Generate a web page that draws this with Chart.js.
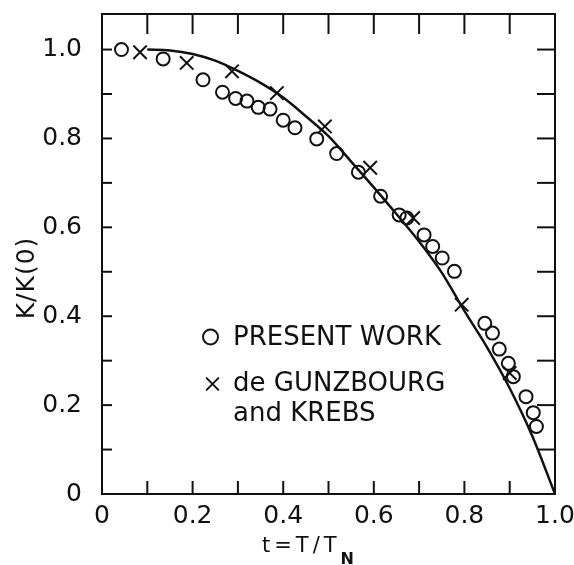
<!DOCTYPE html>
<html>
<head>
<meta charset="utf-8">
<script src="https://cdn.jsdelivr.net/npm/chart.js@4/dist/chart.umd.min.js"></script>
<style>
  html, body { margin: 0; padding: 0; background: #fff; }
  #wrap { width: 574px; height: 565px; }
</style>
</head>
<body>
<div id="wrap"><canvas id="c" width="574" height="565"></canvas></div>
<script>
// Reduced thermal conductivity K/K(0) versus reduced temperature t = T/T_N
const presentT = [0.043, 0.135, 0.223, 0.266, 0.295, 0.320, 0.345, 0.371, 0.400, 0.426, 0.474, 0.518,
                  0.566, 0.615, 0.656, 0.673, 0.711, 0.730, 0.751, 0.778,
                  0.845, 0.862, 0.877, 0.897, 0.908, 0.936, 0.952, 0.959];
const presentK = [1.000, 0.979, 0.932, 0.904, 0.890, 0.884, 0.870, 0.866, 0.841, 0.824, 0.799, 0.766,
                  0.724, 0.670, 0.628, 0.621, 0.583, 0.557, 0.531, 0.501,
                  0.384, 0.362, 0.326, 0.294, 0.264, 0.219, 0.183, 0.152];

const gunzT = [0.084, 0.187, 0.287, 0.386, 0.492, 0.592, 0.687, 0.794, 0.900];
const gunzK = [0.994, 0.970, 0.951, 0.902, 0.827, 0.734, 0.621, 0.426, 0.272];

// Theoretical curve
const curveT = [0.10, 0.15, 0.20, 0.25, 0.30, 0.35, 0.40, 0.45, 0.50, 0.55, 0.60, 0.65,
                0.70, 0.75, 0.80, 0.85, 0.90, 0.95, 1.00];
const curveK = [1.000, 0.998, 0.990, 0.975, 0.952, 0.925, 0.892, 0.850, 0.805, 0.748, 0.690, 0.630,
                0.568, 0.498, 0.412, 0.330, 0.238, 0.130, 0.000];

const xTickValues = [0, 0.2, 0.4, 0.6, 0.8, 1.0];
const yTickValues = [0, 0.2, 0.4, 0.6, 0.8, 1.0];
const xMinorTicks = [0.1, 0.2, 0.3, 0.4, 0.5, 0.6, 0.7, 0.8, 0.9];
const yMinorTicks = [0.1, 0.2, 0.3, 0.4, 0.5, 0.6, 0.7, 0.8, 0.9, 1.0];

const INK = '#111';
const FONT = 'DejaVu Sans';

const zip = (xs, ys) => xs.map((x, i) => ({ x, y: ys[i] }));
const fmt = v => (Math.abs(v) < 1e-9 ? '0' : (Math.round(v * 10) / 10).toFixed(1));

function seg(ctx, x1, y1, x2, y2) {
  ctx.beginPath(); ctx.moveTo(x1, y1); ctx.lineTo(x2, y2); ctx.stroke();
}

// Frame, inward tick marks, tick labels, axis titles and the key
const decor = {
  id: 'decor',
  afterDraw(chart) {
    const { ctx, chartArea: a, scales: { x, y } } = chart;
    ctx.save();
    ctx.strokeStyle = INK;
    ctx.lineWidth = 2;
    ctx.strokeRect(a.left, a.top, a.right - a.left, a.bottom - a.top);

    xMinorTicks.forEach(v => {
      const px = x.getPixelForValue(v);
      seg(ctx, px, a.bottom, px, a.bottom - 13);
      seg(ctx, px, a.top, px, a.top + 20);
    });
    yMinorTicks.forEach(v => {
      const py = y.getPixelForValue(v);
      seg(ctx, a.left, py, a.left + 10, py);
      seg(ctx, a.right, py, a.right - 18, py);
    });

    ctx.fillStyle = INK;
    ctx.font = `25px "${FONT}"`;

    // tick labels
    ctx.textAlign = 'center';
    ctx.textBaseline = 'alphabetic';
    xTickValues.forEach(v => ctx.fillText(fmt(v), x.getPixelForValue(v), 523));
    ctx.textAlign = 'right';
    ctx.textBaseline = 'middle';
    yTickValues.forEach(v => ctx.fillText(fmt(v), 82, y.getPixelForValue(v)));

    // x-axis title: t=T/T with subscript N
    ctx.textAlign = 'left';
    ctx.textBaseline = 'alphabetic';
    ctx.font = `21px "${FONT}"`;
    ctx.letterSpacing = '4px';
    const main = 't=T/T';
    ctx.fillText(main, 262, 552);
    const w = ctx.measureText(main).width;
    ctx.letterSpacing = '0px';
    ctx.font = `bold 16px "${FONT}"`;
    ctx.fillText('N', 262 + w, 564);

    // y-axis title
    ctx.save();
    ctx.translate(27, 278);
    ctx.rotate(-Math.PI / 2);
    ctx.font = `25px "${FONT}"`;
    ctx.letterSpacing = '1px';
    ctx.textAlign = 'center';
    ctx.textBaseline = 'middle';
    ctx.fillText('K/K(0)', 0, 0);
    ctx.restore();

    // key
    ctx.lineWidth = 2;
    ctx.strokeStyle = INK;
    ctx.fillStyle = 'rgba(0,0,0,0)';
    Chart.helpers.drawPoint(ctx, { pointStyle: 'circle', radius: 7.5, borderWidth: 2 }, 210.5, 337);
    Chart.helpers.drawPoint(ctx, { pointStyle: 'crossRot', radius: 9, borderWidth: 2 }, 212.5, 384);
    ctx.fillStyle = INK;
    ctx.font = `26px "${FONT}"`;
    ctx.textAlign = 'left';
    ctx.textBaseline = 'alphabetic';
    ctx.fillText('PRESENT WORK', 233, 345);
    ctx.fillText('de GUNZBOURG', 233, 391);
    ctx.fillText('and KREBS', 233, 421);
    ctx.restore();
  }
};

new Chart(document.getElementById('c'), {
  type: 'scatter',
  data: {
    datasets: [
      {
        label: 'PRESENT WORK',
        data: zip(presentT, presentK),
        pointStyle: 'circle',
        pointRadius: 6.5,
        pointBorderWidth: 2,
        borderColor: INK,
        backgroundColor: 'rgba(0,0,0,0)'
      },
      {
        label: 'de GUNZBOURG and KREBS',
        data: zip(gunzT, gunzK),
        pointStyle: 'crossRot',
        pointRadius: 9.5,
        pointBorderWidth: 2,
        borderColor: INK,
        backgroundColor: INK
      },
      {
        label: 'theory',
        data: zip(curveT, curveK),
        showLine: true,
        pointRadius: 0,
        borderColor: INK,
        borderWidth: 2.5,
        cubicInterpolationMode: 'monotone',
        fill: false
      }
    ]
  },
  options: {
    responsive: false,
    animation: false,
    events: [],
    layout: { autoPadding: false, padding: { top: 14, right: 19, left: 0, bottom: 0 } },
    plugins: { legend: { display: false }, tooltip: { enabled: false } },
    scales: {
      x: {
        type: 'linear', min: 0, max: 1,
        afterFit(s) { s.height = 71; },
        grid: { display: false, drawTicks: false },
        border: { display: false },
        ticks: { display: false }
      },
      y: {
        type: 'linear', min: 0, max: 1.08,
        afterFit(s) { s.width = 102; },
        grid: { display: false, drawTicks: false },
        border: { display: false },
        ticks: { display: false }
      }
    }
  },
  plugins: [decor]
});
</script>
</body>
</html>
